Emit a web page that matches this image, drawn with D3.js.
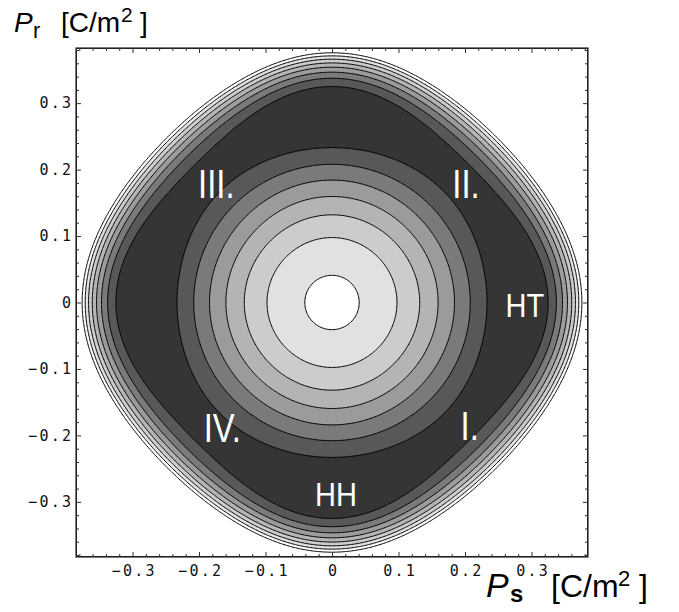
<!DOCTYPE html>
<html>
<head>
<meta charset="utf-8">
<script src="https://cdn.jsdelivr.net/npm/d3@7"></script>
<style>
  body { margin: 0; background: #fff; }
  svg { display: block; }
</style>
</head>
<body>
<svg id="chart" width="679" height="612"></svg>
<script>
"use strict";

// Landau-type free energy F(Ps, Pr), coefficients
let quadCoef = -125;
let quartCoef = [-258, -1164];   // (Ps^4 + Pr^4), Ps^2 Pr^2
let sextCoef = [8377, 39899];    // (Ps^6 + Pr^6), (Ps^4 Pr^2 + Ps^2 Pr^4)

let contourLevels = [-6.21, -5.21, -4.21, -3.21, -2.21, -1.21, -0.21, 0.79];
let bandGrays = ['#353535', '#585858', '#7a7a7a', '#9b9b9b', '#b4b4b4',
                 '#cccccc', '#e1e1e1', '#ffffff', '#ffffff'];

let majorTicks = [-0.3, -0.2, -0.1, 0, 0.1, 0.2, 0.3];
let tickLabels = ['\u22120.3', '\u22120.2', '\u22120.1', '0', '0.1', '0.2', '0.3'];

let regionNames = ['I.', 'II.', 'III.', 'IV.', 'HT', 'HH'];
let regionPs = [0.207, 0.2015, -0.174, -0.165, 0.29, 0.006];
let regionPr = [-0.207, 0.157, 0.157, -0.21, -0.022, -0.306];

let plotLeft = 76, plotRight = 588, plotTop = 48, plotBottom = 557;
let svg = d3.select('#chart');

let x = d3.scaleLinear().domain([-0.385, 0.385]).range([plotLeft, plotRight]);
let y = d3.scaleLinear().domain([-0.383, 0.383]).range([plotBottom, plotTop]);

function energy(ps, pr) {
    let s2 = ps * ps, r2 = pr * pr;
    return quadCoef * (s2 + r2)
        + quartCoef[0] * (s2 * s2 + r2 * r2) + quartCoef[1] * s2 * r2
        + sextCoef[0] * (s2 * s2 * s2 + r2 * r2 * r2)
        + sextCoef[1] * (s2 * s2 * r2 + s2 * r2 * r2);
}

// sample the field on a grid
let n = 400;
let gridX = d3.scaleLinear().domain([0, n]).range(x.domain());
let gridY = d3.scaleLinear().domain([0, n]).range([y.domain()[1], y.domain()[0]]);
let values = new Float64Array(n * n);
for (let j = 0; j < n; j++) {
    for (let i = 0; i < n; i++) {
        values[j * n + i] = energy(gridX(i + 0.5), gridY(j + 0.5));
    }
}

let contours = d3.contours().size([n, n]).thresholds(contourLevels)(values);
let path = d3.geoPath(d3.geoTransform({
    point: function(gx, gy) { this.stream.point(x(gridX(gx)), y(gridY(gy))); }
}));

svg.append('clipPath').attr('id', 'frame-clip')
  .append('rect')
    .attr('x', plotLeft).attr('y', plotTop)
    .attr('width', plotRight - plotLeft).attr('height', plotBottom - plotTop);

let plot = svg.append('g').attr('clip-path', 'url(#frame-clip)');

// lowest band as the base, then each level painted on top
plot.append('rect')
    .attr('x', plotLeft).attr('y', plotTop)
    .attr('width', plotRight - plotLeft).attr('height', plotBottom - plotTop)
    .attr('fill', bandGrays[0]);

plot.selectAll('path.band')
  .data(contours)
  .enter().append('path')
    .attr('class', 'band')
    .attr('d', path)
    .attr('fill', (d, k) => bandGrays[k + 1])
    .attr('stroke', 'none');

plot.selectAll('path.line')
  .data(contours)
  .enter().append('path')
    .attr('class', 'line')
    .attr('d', path)
    .attr('fill', 'none')
    .attr('stroke', '#000')
    .attr('stroke-width', 1);

/* Frame ticks, pointing inward on all sides */
let minorTicks = d3.range(-0.38, 0.381, 0.02).map(v => +v.toFixed(2))
    .filter(v => Math.abs(v * 10 - Math.round(v * 10)) > 1e-6);

function frameAxis(axisFn, scale, pos, labelled) {
    let g = svg.append('g').attr('transform', pos);
    g.call(axisFn(scale).tickValues(minorTicks).tickSize(-3).tickFormat(''));
    let major = axisFn(scale).tickValues(majorTicks).tickSize(-5);
    if (labelled) major.tickFormat((d, i) => tickLabels[i]);
    else major.tickFormat('');
    g.append('g').call(major);
    g.selectAll('.domain').remove();
    g.selectAll('line').attr('stroke', '#333').attr('stroke-width', 1);
    return g;
}

let bottomAxis = frameAxis(d3.axisBottom, x, `translate(0,${plotBottom})`, true);
frameAxis(d3.axisTop, x, `translate(0,${plotTop})`, false);
let leftAxis = frameAxis(d3.axisLeft, y, `translate(${plotLeft},0)`, true);
frameAxis(d3.axisRight, y, `translate(${plotRight},0)`, false);

bottomAxis.selectAll('text')
    .attr('y', 8)
    .attr('dx', '1.2px');
leftAxis.selectAll('text')
    .attr('x', -2.6);
svg.selectAll('.tick text')
    .attr('fill', '#111')
    .style('font-family', '"DejaVu Sans Mono", monospace')
    .style('font-size', '15px')
    .style('letter-spacing', '2.3px');

svg.append('rect')
    .attr('x', plotLeft).attr('y', plotTop)
    .attr('width', plotRight - plotLeft).attr('height', plotBottom - plotTop)
    .attr('fill', 'none')
    .attr('stroke', '#333')
    .attr('stroke-width', 1.3);

/* Axis titles */
let font = '"Liberation Sans", Arial, sans-serif';
let topTitle = svg.append('text').style('font-family', font).attr('fill', '#000');
topTitle.append('tspan').attr('x', 14).attr('y', 32).style('font-size', '28px')
    .style('font-style', 'italic').text('P');
topTitle.append('tspan').attr('x', 33).attr('y', 38).style('font-size', '22px').text('r');
topTitle.append('tspan').attr('x', 61).attr('y', 32).style('font-size', '28px').text('[C/m');
topTitle.append('tspan').attr('x', 121).attr('y', 22).style('font-size', '21px').text('2');
topTitle.append('tspan').attr('x', 140).attr('y', 32).style('font-size', '28px').text(']');

let bottomTitle = svg.append('text').style('font-family', font).attr('fill', '#000');
bottomTitle.append('tspan').attr('x', 486).attr('y', 597).style('font-size', '34px')
    .style('font-style', 'italic').text('P');
bottomTitle.append('tspan').attr('x', 510).attr('y', 602).style('font-size', '24px')
    .style('font-weight', 'bold').text('s');
bottomTitle.append('tspan').attr('x', 551).attr('y', 597).style('font-size', '32px').text('[C/m');
bottomTitle.append('tspan').attr('x', 618).attr('y', 586).style('font-size', '22px').text('2');
bottomTitle.append('tspan').attr('x', 639).attr('y', 597).style('font-size', '32px').text(']');

/* Region labels */
plot.selectAll('text.region')
  .data(regionNames)
  .enter().append('text')
    .attr('class', 'region')
    .attr('transform', (d, i) => {
        let narrow = d.startsWith('H') ? 0.88 : 0.8;
        return `translate(${x(regionPs[i])},${y(regionPr[i])}) scale(${narrow},1)`;
    })
    .attr('text-anchor', 'middle')
    .attr('fill', '#fff')
    .style('font-family', font)
    .style('font-size', d => d.startsWith('H') ? '33px' : '41px')
    .text(d => d);
</script>
</body>
</html>
